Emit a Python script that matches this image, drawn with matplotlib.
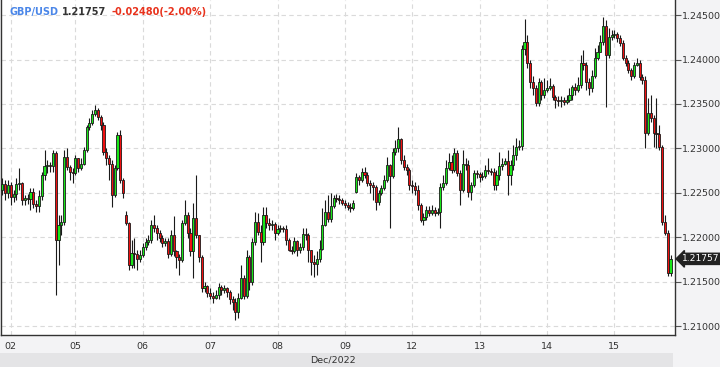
import numpy as np
import matplotlib
matplotlib.use("Agg")
import matplotlib.pyplot as plt
from matplotlib.patches import Rectangle

# GBP/USD hourly candles, Dec 2022
first_open = 1.2253
closes = [
    1.2260, 1.2250, 1.2259, 1.2245, 1.2249, 1.2260, 1.2261, 1.2242, 1.2244, 1.2243,
    1.2251, 1.2237, 1.2235, 1.2246, 1.2270, 1.2280, 1.2281, 1.2280, 1.2295, 1.2197,
    1.2214, 1.2217, 1.2290, 1.2279, 1.2273, 1.2272, 1.2289, 1.2278, 1.2283, 1.2298,
    1.2324, 1.2329, 1.2339, 1.2343, 1.2335, 1.2326, 1.2296, 1.2289, 1.2283, 1.2248,
    1.2278, 1.2315, 1.2264, 1.2250, 1.2216, 1.2169, 1.2182, 1.2181, 1.2176, 1.2180,
    1.2189, 1.2195, 1.2197, 1.2214, 1.2210, 1.2205, 1.2199, 1.2194, 1.2196, 1.2181,
    1.2203, 1.2184, 1.2178, 1.2174, 1.2216, 1.2225, 1.2205, 1.2184, 1.2222, 1.2203,
    1.2178, 1.2143, 1.2145, 1.2137, 1.2134, 1.2132, 1.2135, 1.2144, 1.2141, 1.2143,
    1.2138, 1.2130, 1.2127, 1.2116, 1.2132, 1.2154, 1.2134, 1.2178, 1.2150, 1.2195,
    1.2217, 1.2206, 1.2195, 1.2225, 1.2216, 1.2214, 1.2215, 1.2205, 1.2209, 1.2210,
    1.2209, 1.2197, 1.2186, 1.2185, 1.2196, 1.2186, 1.2189, 1.2204, 1.2202, 1.2186,
    1.2172, 1.2170, 1.2176, 1.2187, 1.2214, 1.2228, 1.2220, 1.2235, 1.2244, 1.2243,
    1.2242, 1.2238, 1.2236, 1.2234, 1.2233, 1.2238, 1.2268, 1.2264, 1.2273, 1.2270,
    1.2261, 1.2259, 1.2256, 1.2240, 1.2250, 1.2255, 1.2264, 1.2281, 1.2269, 1.2296,
    1.2300, 1.2311, 1.2287, 1.2279, 1.2276, 1.2259, 1.2258, 1.2253, 1.2236, 1.2219,
    1.2223, 1.2231, 1.2227, 1.2231, 1.2227, 1.2228, 1.2256, 1.2261, 1.2278, 1.2285,
    1.2276, 1.2295, 1.2272, 1.2253, 1.2283, 1.2281, 1.2251, 1.2259, 1.2272, 1.2271,
    1.2268, 1.2269, 1.2276, 1.2274, 1.2273, 1.2259, 1.2270, 1.2280, 1.2283, 1.2286,
    1.2270, 1.2281, 1.2293, 1.2302, 1.2303, 1.2412, 1.2420, 1.2396, 1.2375, 1.2368,
    1.2351, 1.2375, 1.2360, 1.2366, 1.2368, 1.2370, 1.2358, 1.2354, 1.2353, 1.2354,
    1.2352, 1.2355, 1.2360, 1.2369, 1.2366, 1.2371, 1.2396, 1.2394, 1.2375, 1.2368,
    1.2382, 1.2402, 1.2408, 1.2420, 1.2438, 1.2405, 1.2425, 1.2428, 1.2429, 1.2424,
    1.2419, 1.2402, 1.2396, 1.2388, 1.2381, 1.2394, 1.2396, 1.2380, 1.2377, 1.2317,
    1.2340, 1.2334, 1.2317, 1.2316, 1.2302, 1.2217, 1.2205, 1.2160, 1.21757,
]
highs = [
    1.2267, 1.2264, 1.2264, 1.2262, 1.2253, 1.2267, 1.2278, 1.2262, 1.2248, 1.2249,
    1.2255, 1.2255, 1.2242, 1.2253, 1.2273, 1.2298, 1.2287, 1.2285, 1.2298, 1.2297,
    1.2225, 1.2225, 1.2298, 1.2300, 1.2281, 1.2278, 1.2293, 1.2289, 1.2289, 1.2302,
    1.2326, 1.2334, 1.2343, 1.2349, 1.2345, 1.2338, 1.2330, 1.2300, 1.2293, 1.2287,
    1.2281, 1.2318, 1.2321, 1.2267, 1.2230, 1.2217, 1.2197, 1.2199, 1.2186, 1.2186,
    1.2194, 1.2199, 1.2203, 1.2219, 1.2225, 1.2214, 1.2208, 1.2203, 1.2199, 1.2199,
    1.2208, 1.2224, 1.2186, 1.2181, 1.2219, 1.2242, 1.2228, 1.2210, 1.2238, 1.2270,
    1.2203, 1.2180, 1.2150, 1.2146, 1.2143, 1.2138, 1.2141, 1.2149, 1.2146, 1.2146,
    1.2144, 1.2141, 1.2134, 1.2132, 1.2137, 1.2169, 1.2158, 1.2186, 1.2180, 1.2199,
    1.2228, 1.2227, 1.2214, 1.2234, 1.2234, 1.2222, 1.2219, 1.2217, 1.2214, 1.2214,
    1.2213, 1.2214, 1.2199, 1.2190, 1.2200, 1.2197, 1.2194, 1.2210, 1.2210, 1.2205,
    1.2186, 1.2180, 1.2184, 1.2197, 1.2233, 1.2242, 1.2248, 1.2250, 1.2248, 1.2249,
    1.2248, 1.2244, 1.2242, 1.2240, 1.2238, 1.2242, 1.2272, 1.2270, 1.2278, 1.2279,
    1.2273, 1.2264, 1.2262, 1.2259, 1.2253, 1.2259, 1.2270, 1.2290, 1.2283, 1.2300,
    1.2309, 1.2324, 1.2312, 1.2293, 1.2283, 1.2278, 1.2264, 1.2262, 1.2259, 1.2238,
    1.2227, 1.2235, 1.2235, 1.2236, 1.2234, 1.2233, 1.2261, 1.2270, 1.2287, 1.2295,
    1.2293, 1.2300, 1.2298, 1.2276, 1.2298, 1.2289, 1.2287, 1.2262, 1.2276, 1.2276,
    1.2273, 1.2273, 1.2281, 1.2289, 1.2278, 1.2278, 1.2276, 1.2296, 1.2289, 1.2289,
    1.2298, 1.2287, 1.2304, 1.2312, 1.2309, 1.2416, 1.2446, 1.2428, 1.2399, 1.2382,
    1.2371, 1.2379, 1.2377, 1.2379, 1.2377, 1.2379, 1.2372, 1.2360, 1.2359, 1.2359,
    1.2358, 1.2360, 1.2368, 1.2371, 1.2374, 1.2380, 1.2405, 1.2411, 1.2397, 1.2379,
    1.2388, 1.2413, 1.2416, 1.2428, 1.2448, 1.2444, 1.2435, 1.2433, 1.2433, 1.2431,
    1.2428, 1.2422, 1.2405, 1.2399, 1.2390, 1.2397, 1.2402, 1.2399, 1.2384, 1.2381,
    1.2357, 1.2360, 1.2338, 1.2357, 1.2326, 1.2304, 1.2225, 1.2208, 1.2180,
]
lows = [
    1.2248, 1.2242, 1.2244, 1.2236, 1.2240, 1.2242, 1.2253, 1.2236, 1.2236, 1.2237,
    1.2231, 1.2233, 1.2228, 1.2228, 1.2242, 1.2264, 1.2272, 1.2273, 1.2273, 1.2135,
    1.2169, 1.2203, 1.2214, 1.2276, 1.2264, 1.2261, 1.2270, 1.2273, 1.2276, 1.2281,
    1.2296, 1.2321, 1.2326, 1.2336, 1.2332, 1.2321, 1.2293, 1.2281, 1.2264, 1.2234,
    1.2245, 1.2276, 1.2261, 1.2244, 1.2214, 1.2163, 1.2165, 1.2165, 1.2163, 1.2172,
    1.2178, 1.2186, 1.2191, 1.2194, 1.2206, 1.2197, 1.2195, 1.2189, 1.2190, 1.2177,
    1.2179, 1.2179, 1.2165, 1.2158, 1.2172, 1.2214, 1.2199, 1.2179, 1.2154, 1.2199,
    1.2172, 1.2138, 1.2138, 1.2133, 1.2130, 1.2126, 1.2130, 1.2130, 1.2135, 1.2137,
    1.2133, 1.2125, 1.2118, 1.2107, 1.2109, 1.2130, 1.2130, 1.2132, 1.2141, 1.2146,
    1.2191, 1.2202, 1.2172, 1.2191, 1.2210, 1.2208, 1.2208, 1.2197, 1.2202, 1.2206,
    1.2206, 1.2191, 1.2184, 1.2181, 1.2182, 1.2179, 1.2182, 1.2186, 1.2197, 1.2172,
    1.2158, 1.2155, 1.2158, 1.2172, 1.2186, 1.2213, 1.2217, 1.2217, 1.2233, 1.2240,
    1.2237, 1.2236, 1.2233, 1.2231, 1.2228, 1.2231, 1.2250, 1.2259, 1.2262, 1.2267,
    1.2258, 1.2250, 1.2242, 1.2231, 1.2236, 1.2248, 1.2253, 1.2262, 1.2210, 1.2267,
    1.2293, 1.2296, 1.2283, 1.2276, 1.2270, 1.2253, 1.2250, 1.2248, 1.2231, 1.2217,
    1.2214, 1.2219, 1.2224, 1.2225, 1.2224, 1.2225, 1.2210, 1.2253, 1.2259, 1.2276,
    1.2272, 1.2273, 1.2269, 1.2236, 1.2251, 1.2276, 1.2245, 1.2242, 1.2256, 1.2267,
    1.2262, 1.2264, 1.2267, 1.2271, 1.2270, 1.2253, 1.2253, 1.2264, 1.2276, 1.2281,
    1.2248, 1.2259, 1.2276, 1.2287, 1.2298, 1.2298, 1.2405, 1.2390, 1.2368, 1.2360,
    1.2348, 1.2348, 1.2354, 1.2357, 1.2363, 1.2366, 1.2354, 1.2345, 1.2348, 1.2347,
    1.2349, 1.2350, 1.2352, 1.2355, 1.2360, 1.2363, 1.2368, 1.2388, 1.2366, 1.2360,
    1.2363, 1.2379, 1.2399, 1.2411, 1.2416, 1.2347, 1.2402, 1.2422, 1.2424, 1.2420,
    1.2415, 1.2399, 1.2393, 1.2385, 1.2377, 1.2379, 1.2393, 1.2377, 1.2372, 1.2300,
    1.2315, 1.2330, 1.2302, 1.2300, 1.2298, 1.2214, 1.2202, 1.2156, 1.2156,
]
# candles that open away from the previous close
gap_opens = {44: 1.2225, 126: 1.2251}

day_labels = ["02", "05", "06", "07", "08", "09", "12", "13", "14", "15"]
day_starts = [3, 26, 50, 74, 98, 122, 146, 170, 194, 218]
price_ticks = [1.210, 1.215, 1.220, 1.225, 1.230, 1.235, 1.240, 1.245]
last_price = 1.21757
change = -0.02480
change_pct = -2.00

closes = np.array(closes)
highs = np.array(highs)
lows = np.array(lows)
opens = np.r_[first_open, closes[:-1]]
for k, v in gap_opens.items():
    opens[k] = v
idx = np.arange(len(closes))

bg = "#f3f3f5"
fig = plt.figure(figsize=(7.2, 3.67), dpi=100, facecolor=bg)
ax = fig.add_axes([1 / 720, 32 / 367, 674 / 720, 335 / 367])
ax.set_facecolor("white")

up = closes >= opens
col = np.where(up, "#19e619", "#f01010")
ax.vlines(idx, lows, highs, color="#1a1a1a", linewidth=0.8, zorder=2)
bottom = np.minimum(opens, closes)
height = np.maximum(np.abs(closes - opens), 0.00004)
ax.bar(idx, height, bottom=bottom, width=0.75, color=col,
       edgecolor="#1a1a1a", linewidth=0.6, zorder=3)

ax.set_xlim(-0.5, 239.6)
ax.set_ylim(1.2090, 1.2467)

ax.yaxis.tick_right()
ax.set_yticks(price_ticks)
ax.set_yticklabels(["%.5f" % p for p in price_ticks])
ax.set_xticks(day_starts)
ax.set_xticklabels(day_labels)
ax.tick_params(axis="y", length=4, width=0.8, color="#555555", pad=1,
               labelsize=6.8, labelcolor="#333333")
ax.tick_params(axis="x", length=0, pad=5, labelsize=6.8, labelcolor="#333333")
ax.grid(True, color="#dadada", linestyle=(0, (4, 3)), linewidth=0.8, zorder=0)

for s in ["left", "bottom", "right"]:
    ax.spines[s].set_color("#333333")
    ax.spines[s].set_linewidth(1.0)
ax.spines["top"].set_visible(False)

# last price tag
ax.annotate("%.5f" % last_price, xy=(1.0, last_price),
            xycoords=("axes fraction", "data"),
            xytext=(5, 0), textcoords="offset points",
            va="center", ha="left", fontsize=6.6, color="white",
            bbox=dict(boxstyle="larrow,pad=0.12", fc="#222222", ec="#222222"))

# header
fig.text(10 / 720, 1 - 12 / 367, "GBP/USD", color="#4a86e8", fontsize=7,
         fontweight="bold", va="center")
fig.text(62 / 720, 1 - 12 / 367, "%.5f" % last_price, color="#333333",
         fontsize=7, fontweight="bold", va="center")
fig.text(112 / 720, 1 - 12 / 367, "%.5f(%.2f%%)" % (change, change_pct),
         color="#e8321c", fontsize=7, fontweight="bold", va="center")

# month band
fig.patches.append(Rectangle((0, 0), 673 / 720, 14 / 367, transform=fig.transFigure,
                             facecolor="#e4e4e6", edgecolor="none", zorder=0))
fig.text(333 / 720, 7 / 367, "Dec/2022", color="#333333", fontsize=6.8,
         ha="center", va="center")

fig.savefig("out.png", dpi=100, facecolor=bg)
